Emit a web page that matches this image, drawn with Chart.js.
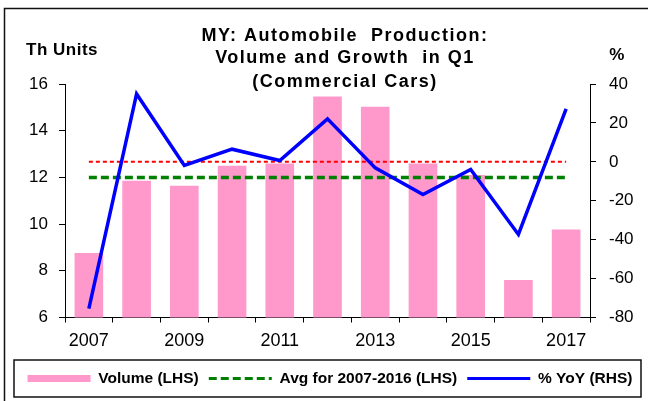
<!DOCTYPE html>
<html>
<head>
<meta charset="utf-8">
<script src="https://cdn.jsdelivr.net/npm/chart.js@4.4.0/dist/chart.umd.min.js"></script>
<style>
  html, body { margin: 0; padding: 0; background: #fff; }
  #wrap { position: relative; width: 648px; height: 401px; }
</style>
</head>
<body>
<div id="wrap"><canvas id="myChart" width="648" height="401"></canvas></div>
<script>
/* --------------- Data --------------------- */
const years = ["2007", "2008", "2009", "2010", "2011", "2012", "2013", "2014", "2015", "2016", "2017"];
// Volume, thousand units (LHS)
const volume = [8.76, 11.86, 11.64, 12.5, 12.6, 15.47, 15.03, 12.6, 12.1, 7.61, 9.77];
// Average for 2007-2016 (LHS)
const avgLine = [12.0, 12.0, 12.0, 12.0, 12.0, 12.0, 12.0, 12.0, 12.0, 12.0, 12.0];
// % YoY (RHS)
const yoy = [-75.4, 34.9, -1.9, 6.5, 0.7, 22.1, -3.1, -16.8, -3.9, -37.3, 27.2];
// zero reference on RHS
const zeroLine = [0, 0, 0, 0, 0, 0, 0, 0, 0, 0, 0];

const titleLines = ["MY: Automobile  Production:", "Volume and Growth  in Q1", "(Commercial Cars)"];

Chart.defaults.font.family = '"Liberation Sans", Arial, sans-serif';
Chart.defaults.color = "#000";

/* --------------- Frame, titles, legend box --------------------- */
const chartDecor = {
  id: "chartDecor",
  beforeDraw(chart) {
    const ctx = chart.ctx;
    ctx.save();
    ctx.fillStyle = "#fff";
    ctx.fillRect(0, 0, chart.width, chart.height);
    ctx.strokeStyle = "#111";
    ctx.lineWidth = 1.5;
    ctx.beginPath();
    ctx.moveTo(4.5, chart.height);
    ctx.lineTo(4.5, 8.5);
    ctx.lineTo(chart.width, 8.5);
    ctx.stroke();
    ctx.strokeRect(14, 360, 627, 37);
    ctx.restore();
  },
  afterDraw(chart) {
    const ctx = chart.ctx;
    ctx.save();
    ctx.fillStyle = "#000";
    ctx.textBaseline = "middle";
    ctx.textAlign = "center";
    ctx.font = 'bold 18px "Liberation Sans", Arial, sans-serif';
    ctx.letterSpacing = "1.5px";
    const ys = [36, 58, 82];
    titleLines.forEach((t, i) => ctx.fillText(t, 345, ys[i]));
    ctx.font = 'bold 17px "Liberation Sans", Arial, sans-serif';
    ctx.letterSpacing = "0.5px";
    ctx.textAlign = "left";
    ctx.fillText("Th Units", 26, 50);
    ctx.textAlign = "center";
    ctx.fillText("%", 617, 55);
    ctx.restore();
  }
};

/* --------------- Chart --------------------- */
const myChart = new Chart(document.getElementById("myChart"), {
  plugins: [chartDecor],
  data: {
    labels: years,
    datasets: [
      {
        type: "bar",
        label: "Volume (LHS)",
        data: volume,
        yAxisID: "y",
        backgroundColor: "#ff99cc",
        borderWidth: 0,
        pointStyle: "rect",
        barPercentage: 0.6,
        categoryPercentage: 1.0,
        order: 3
      },
      {
        type: "line",
        label: "Avg for 2007-2016 (LHS)",
        data: avgLine,
        yAxisID: "y",
        borderColor: "#008000",
        backgroundColor: "#008000",
        borderWidth: 3.5,
        borderDash: [8, 4],
        pointRadius: 0,
        pointStyle: "line",
        fill: false,
        order: 2
      },
      {
        type: "line",
        label: "% YoY (RHS)",
        data: yoy,
        yAxisID: "y1",
        borderColor: "#0000ff",
        backgroundColor: "#0000ff",
        borderWidth: 3.5,
        pointRadius: 0,
        pointStyle: "line",
        tension: 0,
        fill: false,
        order: 0
      },
      {
        type: "line",
        label: "zero",
        data: zeroLine,
        yAxisID: "y1",
        borderColor: "#ff0000",
        borderWidth: 2,
        borderDash: [4, 3],
        pointRadius: 0,
        pointStyle: "line",
        fill: false,
        order: 1
      }
    ]
  },
  options: {
    responsive: false,
    animation: false,
    layout: { padding: { top: 84, left: 12, right: 0, bottom: 4.75 } },
    plugins: {
      tooltip: { enabled: false },
      title: { display: false },
      legend: {
        display: true,
        position: "bottom",
        maxHeight: 36,
        labels: {
          usePointStyle: true,
          pointStyleWidth: 63,
          boxHeight: 7,
          padding: 10,
          color: "#000",
          font: { size: 15.5, weight: "bold" },
          generateLabels: (chart) => {
            const items = Chart.defaults.plugins.legend.labels.generateLabels(chart);
            items.forEach((item) => {
              const ds = chart.data.datasets[item.datasetIndex];
              if (ds.type === "line") {
                item.lineDash = ds.borderDash || [];
                item.lineWidth = 3;
                item.strokeStyle = ds.borderColor;
              }
            });
            return items;
          },
          filter: (item) => item.datasetIndex !== 3,
          sort: (a, b) => a.datasetIndex - b.datasetIndex
        }
      }
    },
    scales: {
      x: {
        offset: true,
        grid: { offset: true, drawOnChartArea: false, drawTicks: true, tickLength: 5, color: "#000" },
        border: { color: "#000", width: 1 },
        ticks: {
          autoSkip: false,
          maxRotation: 0,
          color: "#000",
          font: { size: 18 },
          padding: 8,
          callback: (v, i) => (i % 2 === 0 ? years[i] : "")
        },
        afterFit: (s) => { s.height = 43.25; }
      },
      y: {
        position: "left",
        min: 6,
        max: 16,
        grid: { drawOnChartArea: false, tickLength: 6, color: "#000" },
        border: { color: "#000", width: 1 },
        ticks: { stepSize: 2, color: "#000", font: { size: 17 }, padding: 11 },
        afterFit: (s) => { s.width = 53; }
      },
      y1: {
        position: "right",
        min: -80,
        max: 40,
        grid: { drawOnChartArea: false, tickLength: 6, color: "#000" },
        border: { color: "#000", width: 1 },
        ticks: { stepSize: 20, color: "#000", font: { size: 17 }, padding: 13 },
        afterFit: (s) => { s.width = 58; }
      }
    }
  }
});
</script>
</body>
</html>
